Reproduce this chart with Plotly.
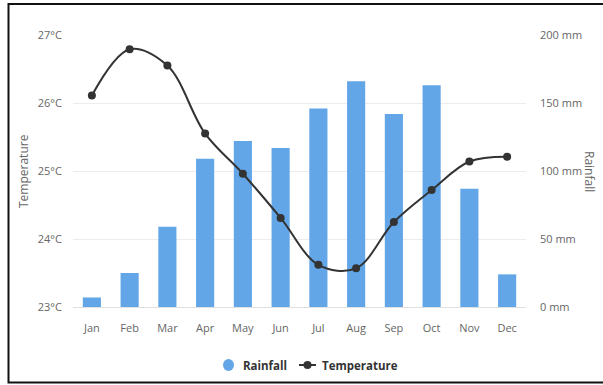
import plotly.graph_objects as go

months = ["Jan", "Feb", "Mar", "Apr", "May", "Jun", "Jul", "Aug", "Sep", "Oct", "Nov", "Dec"]
rainfall_mm = [7, 25, 59, 109, 122, 117, 146, 166, 142, 163, 87, 24]
temperature_c = [26.11, 26.79, 26.55, 25.55, 24.96, 24.31, 23.62, 23.57, 24.25, 24.72, 25.14, 25.21]

temp_ticks = [23, 24, 25, 26, 27]
temp_labels = ["23°C", "24°C", "25°C", "26°C", "27°C"]
rain_ticks = [0, 50, 100, 150, 200]
rain_labels = ["0 mm", "50 mm", "100 mm", "150 mm", "200 mm"]

BAR_BLUE = "#62a6e8"
LINE_DARK = "#333333"
AXIS_GREY = "#666666"
FONT = "Open Sans, DejaVu Sans, sans-serif"

L, R, T, B = 73, 77, 35, 78
W, H = 603, 385
PW, PH = W - L - R, H - T - B


def px_x(px):
    return (px - L) / PW


def px_y(py):
    return (T + PH - py) / PH


fig = go.Figure()

# rainfall bars live on the primary (right-hand) axis so the line sits on top
fig.add_trace(go.Bar(
    x=months, y=rainfall_mm, name="Rainfall", yaxis="y",
    marker=dict(color=BAR_BLUE, line=dict(width=0)),
    showlegend=False,
))
fig.add_trace(go.Scatter(
    x=months, y=temperature_c, name="Temperature", mode="lines+markers", yaxis="y2",
    line=dict(color=LINE_DARK, width=2, shape="spline", smoothing=1),
    marker=dict(color=LINE_DARK, size=8),
    showlegend=False,
))

# legend drawn below the plot: round swatch for rainfall, line-with-dot for temperature
LEG_Y = 365
legend_shapes = [
    dict(type="circle", xref="paper", yref="paper",
         x0=px_x(223), x1=px_x(234), y0=px_y(LEG_Y + 6), y1=px_y(LEG_Y - 6),
         fillcolor=BAR_BLUE, line=dict(width=0)),
    dict(type="line", xref="paper", yref="paper",
         x0=px_x(299), x1=px_x(316), y0=px_y(LEG_Y), y1=px_y(LEG_Y),
         line=dict(color=LINE_DARK, width=2)),
    dict(type="circle", xref="paper", yref="paper",
         x0=px_x(303.5), x1=px_x(311.5), y0=px_y(LEG_Y + 4), y1=px_y(LEG_Y - 4),
         fillcolor=LINE_DARK, line=dict(width=0)),
]
legend_text = [
    dict(text="<b>Rainfall</b>", x=px_x(241), y=px_y(LEG_Y)),
    dict(text="<b>Temperature</b>", x=px_x(319.5), y=px_y(LEG_Y)),
]

annotations = [
    dict(
        text="Temperature", textangle=-90, xref="paper", yref="paper",
        x=px_x(23), y=0.5, xanchor="center", yanchor="middle",
        showarrow=False, font=dict(size=12, color=AXIS_GREY),
    ),
    dict(
        text="Rainfall", textangle=90, xref="paper", yref="paper",
        x=px_x(590), y=0.5, xanchor="center", yanchor="middle",
        showarrow=False, font=dict(size=12, color=AXIS_GREY),
    ),
]
for item in legend_text:
    annotations.append(dict(
        text=item["text"], xref="paper", yref="paper", x=item["x"], y=item["y"],
        xanchor="left", yanchor="middle", showarrow=False,
        font=dict(size=11.5, color="#333333", family=FONT),
    ))

fig.update_layout(
    width=W, height=H,
    margin=dict(l=L, r=R, t=T, b=B, autoexpand=False),
    paper_bgcolor="white", plot_bgcolor="white",
    font=dict(family=FONT, size=11, color=AXIS_GREY),
    bargap=0.52,
    showlegend=False,
    xaxis=dict(
        type="category", range=[-0.5, len(months) - 0.5],
        showgrid=False, zeroline=False, automargin=False,
        showline=True, linecolor="#e0e0e0", linewidth=1,
        ticks="", ticklabelstandoff=11,
        tickfont=dict(size=11, color=AXIS_GREY),
    ),
    yaxis=dict(
        range=[0, 200], tickvals=rain_ticks, ticktext=rain_labels,
        side="right", showgrid=True, gridcolor="#ececec", gridwidth=1,
        zeroline=False, automargin=False,
        ticks="", ticklabelstandoff=13,
        tickfont=dict(size=11, color=AXIS_GREY),
    ),
    yaxis2=dict(
        range=[23, 27], tickvals=temp_ticks, ticktext=temp_labels,
        overlaying="y", side="left", showgrid=False, zeroline=False, automargin=False,
        ticks="", ticklabelstandoff=10,
        tickfont=dict(size=11, color=AXIS_GREY),
    ),
    annotations=annotations,
    shapes=[dict(
        type="rect", xref="paper", yref="paper",
        x0=px_x(8.5), x1=px_x(660),
        y0=px_y(382.5), y1=px_y(4),
        line=dict(color="#111111", width=2), fillcolor="rgba(0,0,0,0)", layer="below",
    )] + legend_shapes,
)

fig.write_html("out.html")
